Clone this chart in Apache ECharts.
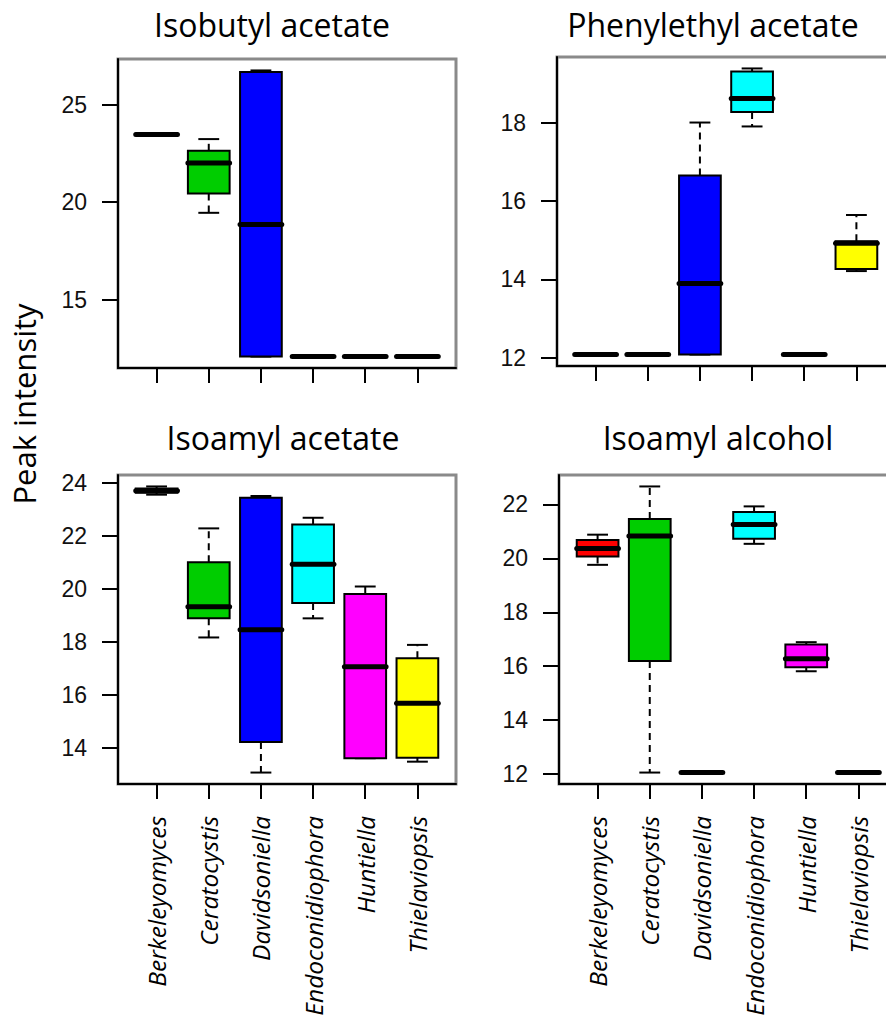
<!DOCTYPE html>
<html><head><meta charset="utf-8">
<script src="https://cdn.jsdelivr.net/npm/echarts@6/dist/echarts.min.js"></script>
<style>html,body{margin:0;padding:0;background:#fff}#c{width:886px;height:1025px}</style>
</head><body><div id="c"></div>
<script>
// ---- data ----
const categories = ['Berkeleyomyces', 'Ceratocystis', 'Davidsoniella', 'Endoconidiophora', 'Huntiella', 'Thielaviopsis'];
const panelTitles = ['Isobutyl acetate', 'Phenylethyl acetate', 'Isoamyl acetate', 'Isoamyl alcohol'];
const yAxisTitle = 'Peak intensity';
// each row: [min, Q1, median, Q3, max]
const isobutylAcetate = [
  [23.46, 23.46, 23.46, 23.46, 23.46],
  [19.45, 20.44, 22.00, 22.63, 23.23],
  [12.08, 12.08, 18.85, 26.67, 26.75],
  [12.08, 12.08, 12.08, 12.08, 12.08],
  [12.08, 12.08, 12.08, 12.08, 12.08],
  [12.08, 12.08, 12.08, 12.08, 12.08]
];
const phenylethylAcetate = [
  [12.08, 12.08, 12.08, 12.08, 12.08],
  [12.08, 12.08, 12.08, 12.08, 12.08],
  [12.08, 12.08, 13.89, 16.65, 18.00],
  [17.90, 18.27, 18.61, 19.30, 19.38],
  [12.08, 12.08, 12.08, 12.08, 12.08],
  [14.21, 14.26, 14.92, 14.97, 15.64]
];
const isoamylAcetate = [
  [23.55, 23.62, 23.70, 23.78, 23.86],
  [18.17, 18.89, 19.33, 21.00, 22.28],
  [13.08, 14.23, 18.46, 23.43, 23.50],
  [18.89, 19.47, 20.93, 22.43, 22.68],
  [13.62, 13.62, 17.07, 19.81, 20.09],
  [13.49, 13.64, 15.69, 17.39, 17.89]
];
const isoamylAlcohol = [
  [19.76, 20.07, 20.37, 20.68, 20.88],
  [12.05, 16.19, 20.83, 21.46, 22.67],
  [12.05, 12.05, 12.05, 12.05, 12.05],
  [20.54, 20.73, 21.26, 21.72, 21.93],
  [15.81, 15.96, 16.27, 16.80, 16.89],
  [12.05, 12.05, 12.05, 12.05, 12.05]
];
const ticksIsobutyl = [15, 20, 25];
const ticksPhenylethyl = [12, 14, 16, 18];
const ticksIsoamylAcetate = [14, 16, 18, 20, 22, 24];
const ticksIsoamylAlcohol = [12, 14, 16, 18, 20, 22];
const categoryTicks = [1, 2, 3, 4, 5, 6];

// ---- styling / layout ----
const boxColors = ['#FF0000', '#00CD00', '#0000FF', '#00FFFF', '#FF00FF', '#FFFF00'];
const panelData = [isobutylAcetate, phenylethylAcetate, isoamylAcetate, isoamylAlcohol];
const panelTicks = [ticksIsobutyl, ticksPhenylethyl, ticksIsoamylAcetate, ticksIsoamylAlcohol];
const layout = [
  {left: 118, top: 59, tx: 272, ty: 24, labels: false},
  {left: 557, top: 57, tx: 713, ty: 24, labels: false},
  {left: 118, top: 475, tx: 283, ty: 437, labels: true},
  {left: 559, top: 475, tx: 718, ty: 437, labels: true}
];
const GW = 338, GH = 309;

function renderBox(params, api) {
  const x = api.value(0);
  const mn = api.value(1), q1 = api.value(2), md = api.value(3), q3 = api.value(4), mx = api.value(5);
  const color = boxColors[api.value(6)];
  const hw = 0.4, sw = 0.2;
  const P = (a, b) => api.coord([a, b]);
  const ch = [];
  const ls = {stroke: '#000', lineWidth: 2, fill: null};
  const line = (a, c, extra) => ({type: 'line', shape: {x1: a[0], y1: a[1], x2: c[0], y2: c[1]}, style: Object.assign({}, ls, extra || {})});
  if (mx > q3) ch.push(line(P(x, q3), P(x, mx), {lineDash: [7, 5]}));
  if (mn < q1) ch.push(line(P(x, q1), P(x, mn), {lineDash: [7, 5]}));
  ch.push(line(P(x - sw, mx), P(x + sw, mx)));
  ch.push(line(P(x - sw, mn), P(x + sw, mn)));
  const tl = P(x - hw, q3), br = P(x + hw, q1);
  ch.push({type: 'rect', shape: {x: tl[0], y: tl[1], width: br[0] - tl[0], height: br[1] - tl[1]},
    style: {fill: color, stroke: '#000', lineWidth: 2}});
  const m1 = P(x - hw, md), m2 = P(x + hw, md);
  ch.push({type: 'line', shape: {x1: m1[0], y1: m1[1], x2: m2[0], y2: m2[1]}, style: {stroke: '#000', lineWidth: 5, lineCap: 'round'}});
  return {type: 'group', children: ch};
}

const grids = [], xAxes = [], yAxes = [], series = [], graphics = [];
panelData.forEach((rows, i) => {
  const L = layout[i];
  grids.push({left: L.left, top: L.top, width: GW, height: GH, show: true, borderColor: '#8a8a8a', borderWidth: 3,
    backgroundColor: 'transparent', outerBoundsMode: 'none', containLabel: false});
  let lo = Infinity, hi = -Infinity;
  rows.forEach(r => { lo = Math.min(lo, r[0]); hi = Math.max(hi, r[4]); });
  const pad = (hi - lo) * 0.04;
  const n = categories.length;
  xAxes.push({
    type: 'value', gridIndex: i, min: 1 - 0.5 - 0.04 * n, max: n + 0.5 + 0.04 * n,
    splitLine: {show: false},
    axisLine: {show: true, onZero: false, lineStyle: {color: '#000', width: 2}},
    axisTick: {show: true, customValues: categoryTicks, length: 15, lineStyle: {color: '#000', width: 2}},
    axisLabel: {show: L.labels, customValues: categoryTicks, rotate: 90, margin: 32,
      formatter: v => categories[Math.round(v) - 1] || '',
      fontFamily: 'Open Sans', fontStyle: 'italic', fontSize: 24.5, color: '#000'}
  });
  yAxes.push({
    type: 'value', gridIndex: i, min: lo - pad, max: hi + pad,
    splitLine: {show: false},
    axisLine: {show: true, onZero: false, lineStyle: {color: '#000', width: 2}},
    axisTick: {show: true, customValues: panelTicks[i], length: 16, lineStyle: {color: '#000', width: 2}},
    axisLabel: {show: true, customValues: panelTicks[i], margin: 31, fontFamily: 'Liberation Sans', fontSize: 23, color: '#111'}
  });
  series.push({
    type: 'custom', xAxisIndex: i, yAxisIndex: i, coordinateSystem: 'cartesian2d',
    renderItem: renderBox, clip: false,
    encode: {x: 0, y: [1, 2, 3, 4, 5]},
    data: rows.map((r, k) => [k + 1, r[0], r[1], r[2], r[3], r[4], k])
  });
  graphics.push({type: 'text', x: L.tx, y: L.ty, style: {text: panelTitles[i], fontFamily: 'Open Sans', fontSize: 32,
    fill: '#000', textAlign: 'center', textVerticalAlign: 'middle'}});
});
graphics.push({type: 'text', x: 24, y: 404, rotation: Math.PI / 2,
  style: {text: yAxisTitle, fontFamily: 'Open Sans', fontSize: 31, fill: '#000', textAlign: 'center', textVerticalAlign: 'middle'}});

const chart = echarts.init(document.getElementById('c'), null, {renderer: 'svg'});
chart.setOption({
  animation: false,
  backgroundColor: '#fff',
  grid: grids, xAxis: xAxes, yAxis: yAxes, series: series, graphic: graphics
});
</script></body></html>
